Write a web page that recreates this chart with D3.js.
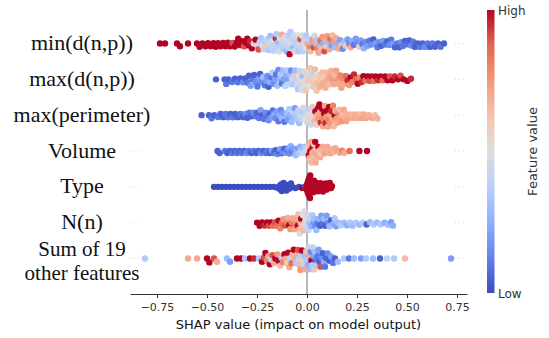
<!DOCTYPE html>
<html>
<head>
<meta charset="utf-8">
<script src="https://cdn.jsdelivr.net/npm/d3@7"></script>
<style>
  body { margin: 0; background: #fff; }
</style>
</head>
<body>
<svg id="chart" width="549" height="338"></svg>
<script>
// feature rows, top to bottom
const features = ["min(d(n,p))", "max(d(n,p))", "max(perimeter)", "Volume", "Type", "N(n)", "Sum of 19\nother features"];
const xTicks = [-0.75, -0.5, -0.25, 0, 0.25, 0.5, 0.75];

// [shap value, normalised feature value]
const minDnp = [
[-0.735,1],[-0.71,1],[-0.65,1],[-0.635,1],[-0.595,1],
[-0.55,1],[-0.537,1],[-0.523,1],[-0.508,1],
[-0.495,1],[-0.482,1],[-0.468,1],[-0.456,1],
[-0.445,1],[-0.432,1],[-0.42,1],[-0.407,1],
[-0.396,1],[-0.385,1],[-0.372,.9],[-0.361,1],[-0.351,1],
[-0.344,1],[-0.334,1],[-0.325,1],[-0.315,.9],[-0.306,1],
[-0.299,1],[-0.291,1],[-0.284,.95],[-0.276,1],[-0.266,.55],[-0.257,1],
[-0.248,.45],[-0.242,.9],[-0.236,.4],[-0.23,.35],[-0.224,.5],[-0.217,.42],[-0.21,.38],[-0.203,.6],
[-0.198,.4],[-0.193,.35],[-0.188,.45],[-0.183,.3],[-0.177,.4],[-0.172,.5],[-0.167,.38],[-0.161,.42],[-0.156,.95],[-0.152,.35],
[-0.148,.4],[-0.144,.3],[-0.139,.45],[-0.135,.5],[-0.13,.38],[-0.126,.7],[-0.121,.42],[-0.117,.35],[-0.112,.48],[-0.108,.4],[-0.103,.3],
[-0.099,.45],[-0.095,.38],[-0.091,.42],[-0.087,1],[-0.083,.35],[-0.079,.5],[-0.075,.4],[-0.071,.3],[-0.066,.45],[-0.062,.55],[-0.058,.38],[-0.053,.42],
[-0.049,.4],[-0.045,.5],[-0.041,.35],[-0.037,.45],[-0.033,.9],[-0.029,.4],[-0.025,.48],[-0.021,.38],[-0.017,.55],[-0.013,.42],[-0.008,.5],[-0.004,.35],
[0.003,.7],[0.008,.4],[0.013,.8],[0.018,.65],[0.023,.3],[0.028,.75],[0.033,.9],[0.038,.45],[0.043,.7],[0.048,.35],
[0.052,.8],[0.057,.7],[0.062,.3],[0.067,.85],[0.072,.65],[0.077,.75],[0.082,.25],[0.087,.9],[0.092,.7],[0.097,.6],
[0.102,.75],[0.107,.3],[0.112,.7],[0.118,.85],[0.123,.2],[0.128,.65],[0.134,.75],[0.14,.3],[0.146,.7],
[0.153,.25],[0.159,.7],[0.166,.2],[0.172,.65],[0.179,.15],[0.186,.3],[0.194,.6],
[0.203,.2],[0.211,.15],[0.219,.7],[0.227,.25],[0.235,.1],[0.244,.2],
[0.253,.15],[0.261,.6],[0.269,.2],[0.277,.1],[0.285,.25],[0.294,.15],
[0.303,.2],[0.313,.1],[0.322,.15],[0.332,.05],[0.342,.2],
[0.352,.1],[0.361,.15],[0.371,.05],[0.38,.2],[0.39,.1],
[0.402,.05],[0.411,.15],[0.421,.1],[0.43,.2],[0.44,.05],
[0.452,.1],[0.461,.05],[0.471,.15],[0.48,.1],[0.49,.05],
[0.502,.1],[0.511,.05],[0.521,.15],[0.53,.1],[0.54,.05],
[0.553,.05],[0.565,.1],[0.577,.05],[0.589,.15],
[0.603,.1],[0.615,.05],[0.627,.1],[0.64,.05],
[0.655,.05],[0.668,.1],[0.685,.05]
];

const maxDnp = [
[-0.455,.05],
[-0.412,.05],[-0.404,.1],
[-0.392,.05],[-0.375,.1],[-0.36,.05],
[-0.346,.1],[-0.333,.05],[-0.32,.15],[-0.307,.05],
[-0.298,.1],[-0.29,.05],[-0.282,.2],[-0.273,.1],[-0.264,.05],[-0.256,.15],
[-0.248,.1],[-0.241,.2],[-0.234,.05],[-0.226,.15],[-0.219,.3],[-0.211,.1],[-0.204,.2],
[-0.198,.15],[-0.192,.05],[-0.185,.25],[-0.179,.1],[-0.173,.35],[-0.166,.15],[-0.16,.2],[-0.154,.1],
[-0.148,.3],[-0.143,.15],[-0.137,.25],[-0.132,.35],[-0.126,.1],[-0.12,.3],[-0.115,.2],[-0.109,.4],[-0.104,.25],
[-0.099,.35],[-0.094,.2],[-0.089,.4],[-0.084,.3],[-0.079,.15],[-0.074,.45],[-0.069,.35],[-0.064,.6],[-0.059,.3],[-0.054,.4],
[-0.049,.45],[-0.045,.35],[-0.041,.5],[-0.037,.4],[-0.033,.55],[-0.029,.45],[-0.025,.5],[-0.021,.3],[-0.017,.55],[-0.013,.48],[-0.009,.5],[-0.005,.6],[-0.001,.45],
[0.004,.55],[0.008,.6],[0.013,.5],[0.017,.62],[0.022,.58],[0.026,.4],[0.031,.62],[0.035,.6],[0.04,.65],[0.044,.55],[0.048,.62],
[0.054,.65],[0.059,.6],[0.065,.68],[0.07,.62],[0.076,.65],[0.081,.7],[0.087,.6],[0.092,.68],[0.097,.65],
[0.103,.7],[0.109,.65],[0.115,.72],[0.121,.68],[0.128,.75],[0.134,.7],[0.14,.65],[0.146,.72],
[0.153,.75],[0.159,.7],[0.166,.8],[0.172,.72],[0.179,.78],[0.186,.7],[0.194,.85],
[0.203,.95],[0.211,.75],[0.219,1],[0.227,.8],[0.235,.95],[0.244,.85],
[0.254,1],[0.263,.8],[0.273,.95],[0.282,1],[0.292,.85],
[0.303,1],[0.313,.9],[0.323,1],[0.333,.85],[0.343,1],
[0.355,.95],[0.367,1],[0.379,.85],[0.391,1],
[0.403,1],[0.415,.9],[0.427,1],[0.439,.95],
[0.455,1],[0.468,.9],[0.483,1],
[0.502,1],[0.52,.95]
];

const maxPerim = [
[-0.527,.05],
[-0.49,.05],[-0.477,.1],[-0.463,.05],
[-0.445,.1],[-0.432,.05],[-0.42,.05],[-0.407,.1],
[-0.395,.1],[-0.383,.05],[-0.371,.1],[-0.359,.05],
[-0.346,.05],[-0.333,.1],[-0.32,.05],[-0.307,.15],
[-0.298,.05],[-0.288,.1],[-0.278,.05],[-0.268,.15],[-0.258,.1],
[-0.248,.05],[-0.24,.1],[-0.232,.2],[-0.223,.05],[-0.215,.1],[-0.207,.15],
[-0.199,.1],[-0.192,.15],[-0.185,.05],[-0.178,.2],[-0.171,.1],[-0.164,.25],[-0.157,.15],
[-0.149,.2],[-0.143,.1],[-0.137,.25],[-0.131,.15],[-0.125,.3],[-0.119,.2],[-0.113,.1],[-0.106,.25],
[-0.099,.3],[-0.094,.2],[-0.088,.35],[-0.083,.25],[-0.077,.3],[-0.072,.4],[-0.066,.3],[-0.061,.2],[-0.055,.35],
[-0.049,.35],[-0.044,.4],[-0.039,.3],[-0.034,.45],[-0.029,.4],[-0.024,.35],[-0.019,.45],[-0.014,.4],[-0.009,.5],[-0.004,.42],
[0.002,.45],[0.006,.5],[0.011,.4],[0.015,.55],[0.02,.45],[0.024,.5],[0.029,.6],[0.033,.48],[0.038,.65],[0.042,1],[0.047,.55],
[0.051,.7],[0.055,1],[0.058,.75],[0.062,1],[0.065,.7],[0.069,.95],[0.072,.75],[0.076,1],[0.079,.7],[0.083,.8],[0.086,1],[0.09,.7],[0.093,.95],[0.097,.75],
[0.101,1],[0.104,.7],[0.108,.8],[0.111,1],[0.115,.7],[0.119,.75],[0.122,.95],[0.126,.7],[0.13,.8],[0.134,.65],[0.138,1],[0.142,.7],[0.147,.75],
[0.152,.7],[0.157,.8],[0.162,.65],[0.168,.7],[0.173,.75],[0.179,.65],[0.184,.7],[0.19,.68],[0.196,.72],
[0.205,.68],[0.215,.7],[0.225,.65],[0.235,.7],[0.245,.68],
[0.255,.7],[0.265,.65],[0.275,.72],[0.285,.68],[0.295,.7],
[0.31,.68],[0.325,.7],[0.34,.65],
[0.352,.68]
];

const volume = [
[-0.447,.05],[-0.437,.05],[-0.41,.1],[-0.398,.05],
[-0.386,.05],[-0.374,.1],[-0.362,.05],[-0.35,.1],
[-0.338,.05],[-0.326,.1],[-0.314,.05],[-0.302,.15],
[-0.29,.1],[-0.278,.05],[-0.266,.1],[-0.254,.05],
[-0.242,.05],[-0.23,.15],[-0.218,.05],[-0.206,.1],
[-0.196,.1],[-0.186,.05],[-0.176,.2],[-0.166,.1],[-0.157,.05],
[-0.148,.15],[-0.141,.05],[-0.134,.2],[-0.127,.1],[-0.12,.15],[-0.113,.05],[-0.106,.2],
[-0.099,.1],[-0.093,.2],[-0.087,.15],[-0.081,.25],[-0.075,.1],[-0.069,.2],[-0.063,.15],[-0.057,.3],
[-0.051,.3],[-0.045,.2],[-0.039,.35],[-0.033,.25],[-0.027,.4],[-0.021,.3],[-0.015,.45],[-0.009,.35],[-0.003,.4],
[0.004,.55],[0.007,.65],[0.009,1],[0.011,.6],[0.013,.7],[0.015,.65],[0.017,1],[0.019,.6],[0.021,.7],[0.023,.65],[0.025,.95],[0.027,.6],[0.029,.7],[0.031,1],[0.033,.65],[0.035,.6],[0.037,.7],[0.039,.65],[0.041,1],[0.043,.68],[0.046,.6],[0.049,.7],
[0.053,.7],[0.057,1],[0.061,.65],[0.065,.7],[0.069,.6],[0.073,.68],[0.078,.7],[0.083,.65],[0.089,.72],[0.095,.68],
[0.102,.7],[0.11,.68],[0.118,.72],[0.126,.7],[0.134,.68],[0.142,.7],
[0.152,.72],[0.164,.7],[0.176,.8],[0.187,.7],
[0.213,.85],[0.262,1],[0.3,1]
];

const typeF = [
[-0.465,0],[-0.445,0],[-0.425,0],[-0.405,0],[-0.385,0],[-0.365,0],[-0.345,0],[-0.325,0],[-0.305,0],[-0.285,0],[-0.265,0],[-0.245,0],[-0.225,0],[-0.205,0],[-0.185,0],[-0.165,0],[-0.148,0],
[-0.138,0],[-0.134,0],[-0.13,0],[-0.126,0],[-0.121,0],[-0.117,0],[-0.112,0],[-0.108,0],[-0.103,0],[-0.098,0],[-0.093,0],[-0.087,0],[-0.08,0],[-0.073,0],
[-0.058,0],[-0.04,0],[-0.024,1],[-0.01,0],
[-0.002,1],[0.0,1],[0.001,1],[0.003,1],[0.004,1],[0.006,1],[0.007,1],[0.009,1],[0.01,1],[0.012,1],[0.013,1],[0.015,1],[0.016,1],[0.018,1],[0.019,1],[0.021,1],
[0.026,1],[0.029,1],[0.032,1],[0.035,1],[0.038,1],[0.041,1],[0.044,1],[0.048,1],[0.052,1],[0.056,1],[0.06,1],[0.064,1],[0.068,1],[0.072,1],[0.076,1],[0.08,1],[0.084,1],[0.088,1],
[0.094,1],[0.099,1],[0.104,1],[0.109,1],[0.114,1],[0.12,1],[0.125,1]
];

const nN = [
[-0.25,1],[-0.237,1],[-0.225,1],[-0.212,.95],
[-0.2,1],[-0.19,.9],[-0.18,1],[-0.17,.85],[-0.16,.9],
[-0.15,.85],[-0.142,1],[-0.134,.8],[-0.126,.85],[-0.118,.75],[-0.11,.9],
[-0.1,.8],[-0.095,.7],[-0.089,1],[-0.083,.75],[-0.077,.8],[-0.071,.7],[-0.066,.85],[-0.06,.7],[-0.055,.75],
[-0.05,.7],[-0.046,1],[-0.043,.65],[-0.039,.7],[-0.036,.5],[-0.032,.68],[-0.029,1],[-0.025,.6],[-0.021,.5],[-0.018,.65],[-0.014,.5],[-0.011,.55],[-0.007,.5],[-0.003,.45],
[0.002,.45],[0.007,.4],[0.012,.3],[0.017,.4],[0.022,.25],[0.027,.35],[0.032,.2],[0.037,.3],[0.042,.15],[0.047,.3],
[0.053,.1],[0.059,.25],[0.066,.05],[0.072,.2],[0.079,.1],[0.085,.3],[0.092,.05],[0.098,.2],
[0.105,.15],[0.113,.3],[0.121,.05],[0.13,.25],[0.138,.35],[0.146,.2],
[0.155,.3],[0.17,.35],[0.185,.3],[0.2,.25],[0.215,.35],[0.228,.3],[0.245,.35],[0.262,.3],[0.28,.35],[0.298,.05],
[0.315,.3],[0.332,.35],[0.35,.3],[0.368,.35],[0.388,.25],[0.405,.3],[0.42,.2],[0.43,.25]
];

const sumOther = [
[-0.81,.35],
[-0.595,.7],[-0.55,.7],[-0.5,1],[-0.488,1],[-0.465,.9],[-0.45,.7],[-0.4,.3],[-0.385,.2],[-0.35,1],[-0.33,1],[-0.31,.35],[-0.285,1],[-0.265,.95],[-0.24,.35],
[-0.225,1],[-0.215,.9],[-0.208,1],[-0.2,.8],
[-0.193,.7],[-0.186,1],[-0.179,.4],[-0.172,.9],[-0.165,.7],[-0.158,1],
[-0.148,.75],[-0.141,1],[-0.134,.65],[-0.127,.35],[-0.12,.8],[-0.113,1],[-0.106,.7],
[-0.099,.6],[-0.094,1],[-0.088,.7],[-0.083,.4],[-0.077,.85],[-0.072,.65],[-0.066,1],[-0.061,.7],[-0.055,.35],
[-0.049,.7],[-0.045,.9],[-0.041,.4],[-0.037,.65],[-0.033,.75],[-0.029,.35],[-0.025,1],[-0.021,.6],[-0.017,.4],[-0.013,.7],[-0.008,.3],[-0.004,.65],
[0.001,.35],[0.005,.25],[0.008,.4],[0.012,.7],[0.015,.3],[0.019,.15],[0.022,1],[0.026,.35],[0.029,.4],[0.033,.2],[0.036,.6],[0.04,.3],[0.044,.1],[0.048,.35],
[0.053,.1],[0.058,.2],[0.063,.05],[0.068,.9],[0.074,.15],[0.079,.05],[0.085,.25],[0.09,.1],[0.096,.05],
[0.103,.15],[0.112,.05],[0.121,.2],[0.13,.1],[0.14,.05],
[0.155,.3],[0.185,.35],[0.21,.1],[0.235,.3],[0.27,.2],[0.295,.35],[0.33,.3],[0.365,.05],[0.4,.4],[0.435,.35],[0.49,.65],[0.72,.2]
];

const rowData = [minDnp, maxDnp, maxPerim, volume, typeF, nN, sumOther];

// matplotlib coolwarm
const coolwarm = ["#3b4cc0","#6282ea","#8db0fe","#b9d0f9","#dddddd","#f5c4ac","#f4987a","#e16751","#b40426"];

var svg = d3.select("#chart");

var x = d3.scaleLinear().domain([-0.885, 0.8]).range([130, 467]);
var y = d3.scalePoint().domain(features).range([43.5, 258.5]);
var color = d3.scaleLinear()
  .domain(coolwarm.map((c, i) => i / (coolwarm.length - 1)))
  .range(coolwarm)
  .interpolate(d3.interpolateRgb);

var r = 3.2, gap = 4, maxOff = 11.5;

// simple beeswarm: put each dot as close to the row line as it can go
function dodge(pts) {
  var placed = [];
  pts.forEach(p => {
    var near = placed.filter(q => Math.abs(q.px - p.px) < gap);
    var cands = [0];
    near.forEach(q => {
      var dy = Math.sqrt(gap * gap - (q.px - p.px) ** 2);
      cands.push(q.dy + dy, q.dy - dy);
    });
    cands.sort((a, b) => Math.abs(a) - Math.abs(b));
    p.dy = cands.find(c => near.every(q => (q.px - p.px) ** 2 + (q.dy - c) ** 2 >= gap * gap - 0.01));
    placed.push(p);
  });
}

// zero line
svg.append("line")
  .attr("x1", x(0)).attr("x2", x(0))
  .attr("y1", 10).attr("y2", 294)
  .attr("stroke", "#999").attr("stroke-width", 1.4);

// faint dotted guides at both ends of each row
features.forEach(f => {
  [[130, 142], [455, 467]].forEach(([a, b]) => {
    svg.append("line")
      .attr("x1", a).attr("x2", b)
      .attr("y1", y(f)).attr("y2", y(f))
      .attr("stroke", "#ccc").attr("stroke-width", 0.8)
      .attr("stroke-dasharray", "1,3");
  });
});

// dots
features.forEach((f, i) => {
  var pts = rowData[i].map(d => ({ px: x(d[0]), v: d[1] }))
    .sort((a, b) => a.px - b.px);
  dodge(pts);
  var m = d3.max(pts, p => Math.abs(p.dy)) || 1;
  var k = maxOff / m;
  svg.append("g").selectAll("circle")
    .data(pts)
    .enter()
    .append("circle")
    .attr("cx", p => p.px)
    .attr("cy", p => y(f) + p.dy * k)
    .attr("r", r)
    .attr("fill", p => color(p.v));
});

// row labels (two-line one as two separate texts)
features.forEach(f => {
  var lines = f.split("\n");
  var ys = lines.length == 1 ? [y(f) + 6.5] : [y(f) - 3, y(f) + 21];
  lines.forEach((s, j) => {
    svg.append("text")
      .attr("x", 82)
      .attr("y", ys[j])
      .attr("text-anchor", "middle")
      .style("font-family", "'Liberation Serif', 'DejaVu Serif', serif")
      .style("font-size", lines.length == 1 ? "22px" : "21px")
      .attr("fill", "#111")
      .text(s);
  });
});

// x axis
var axis = svg.append("g")
  .attr("transform", "translate(0,294)")
  .call(d3.axisBottom(x).tickValues(xTicks).tickFormat(d3.format(".2f")).tickSize(4).tickSizeOuter(0).tickPadding(5));
axis.select(".domain").attr("stroke", "#333");
axis.selectAll(".tick line").attr("stroke", "#333");
axis.selectAll(".tick text")
  .attr("fill", "#333")
  .style("font-family", "'DejaVu Sans', sans-serif")
  .style("font-size", "11px");

svg.append("text")
  .attr("x", (130 + 467) / 2)
  .attr("y", 329)
  .attr("text-anchor", "middle")
  .style("font-family", "'DejaVu Sans', sans-serif")
  .style("font-size", "13px")
  .attr("fill", "#111")
  .text("SHAP value (impact on model output)");

// colour bar
var grad = svg.append("defs").append("linearGradient")
  .attr("id", "cbar").attr("x1", 0).attr("x2", 0).attr("y1", 1).attr("y2", 0);
coolwarm.forEach((c, i) => {
  grad.append("stop").attr("offset", i / (coolwarm.length - 1)).attr("stop-color", c);
});
svg.append("rect")
  .attr("x", 487).attr("y", 10).attr("width", 7.5).attr("height", 283)
  .attr("fill", "url(#cbar)");

svg.append("text").attr("x", 498).attr("y", 15)
  .style("font-family", "'DejaVu Sans', sans-serif").style("font-size", "12px")
  .attr("fill", "#333").text("High");
svg.append("text").attr("x", 498).attr("y", 298)
  .style("font-family", "'DejaVu Sans', sans-serif").style("font-size", "12px")
  .attr("fill", "#333").text("Low");
svg.append("text")
  .attr("transform", "translate(537,151.5) rotate(-90)")
  .attr("text-anchor", "middle")
  .style("font-family", "'DejaVu Sans', sans-serif").style("font-size", "13px")
  .attr("fill", "#333").text("Feature value");
</script>
</body>
</html>
